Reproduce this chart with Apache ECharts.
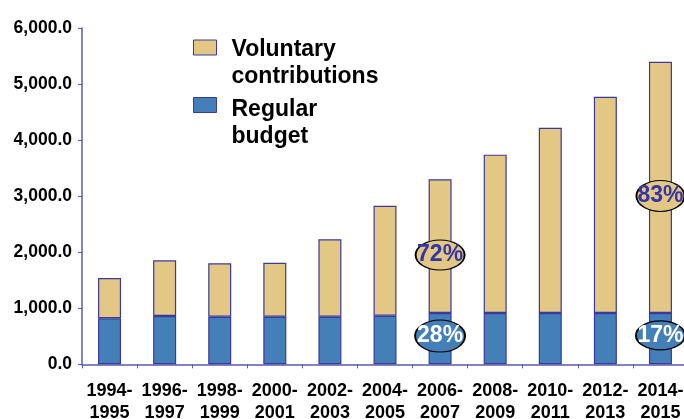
<!DOCTYPE html>
<html><head><meta charset="utf-8">
<script src="https://cdn.jsdelivr.net/npm/echarts@6/dist/echarts.min.js"></script>
<style>html,body{margin:0;padding:0;background:#fff}#c{width:684px;height:419px}</style>
</head><body><div id="c"></div>
<script>
const categories = ['1994-\n1995','1996-\n1997','1998-\n1999','2000-\n2001','2002-\n2003','2004-\n2005','2006-\n2007','2008-\n2009','2010-\n2011','2012-\n2013','2014-\n2015'];
const regularBudget = [821, 862, 849, 849, 849, 867, 915, 915, 915, 915, 915];
const voluntaryContributions = [719, 993, 953, 964, 1381, 1963, 2386, 2825, 3306, 3859, 4484];
const yTicks = [0, 1000, 2000, 3000, 4000, 5000, 6000];
const seriesNames = ['Voluntary\ncontributions', 'Regular\nbudget'];

const FONT = '"Liberation Sans", Arial, sans-serif';
const TAN = '#E3C785', BLUE = '#457FB8', EDGE = '#3A3A9C', AXIS = '#5A5AAE';

function pct(i, part) {
  const tot = regularBudget[i] + voluntaryContributions[i];
  return Math.round(part[i] / tot * 100) + '%';
}
const i7 = 6, i11 = 10;

const chart = echarts.init(document.getElementById('c'), null, {renderer: 'canvas'});
chart.setOption({
  animation: false,
  grid: {left: 82, top: 28, width: 606, height: 336.3, containLabel: false, outerBoundsMode: 'none'},
  xAxis: {
    type: 'category', data: categories, boundaryGap: true,
    axisLine: {lineStyle: {color: AXIS, width: 1.5}},
    axisTick: {show: true, length: 4, lineStyle: {color: AXIS}},
    axisLabel: {color: '#000', fontFamily: FONT, fontWeight: 'bold', fontSize: 18, lineHeight: 22, margin: 16, interval: 0}
  },
  yAxis: {
    type: 'value', min: yTicks[0], max: yTicks[yTicks.length - 1], interval: 1000,
    axisLine: {show: true, lineStyle: {color: AXIS, width: 1.5}},
    axisTick: {show: true, length: 4, lineStyle: {color: AXIS}},
    splitLine: {show: false},
    axisLabel: {color: '#000', fontFamily: FONT, fontWeight: 'bold', fontSize: 17.5, margin: 10,
      formatter: v => v.toLocaleString('en-US', {minimumFractionDigits: 1, maximumFractionDigits: 1})}
  },
  series: [
    {
      name: seriesNames[1], type: 'bar', stack: 'total', data: regularBudget, barWidth: 23,
      itemStyle: {color: BLUE, borderColor: EDGE, borderWidth: 1.2},
      markPoint: {
        symbol: 'circle', silent: true,
        data: [
          {coord: [i7, 505], symbolSize: [50, 32], value: pct(i7, regularBudget)},
          {coord: [i11, 515], symbolSize: [49, 29], value: pct(i11, regularBudget)}
        ],
        itemStyle: {color: BLUE, borderColor: '#000', borderWidth: 1.5},
        label: {show: true, position: 'inside', formatter: p => p.value, color: '#fff', fontFamily: FONT, fontWeight: 'bold', fontSize: 23}
      }
    },
    {
      name: seriesNames[0], type: 'bar', stack: 'total', data: voluntaryContributions, barWidth: 23,
      itemStyle: {color: TAN, borderColor: EDGE, borderWidth: 1.2},
      markPoint: {
        symbol: 'circle', silent: true,
        data: [
          {coord: [i7, 1950], symbolSize: [49, 30], value: pct(i7, voluntaryContributions)},
          {coord: [i11, 3003], symbolSize: [48, 31], value: pct(i11, voluntaryContributions)}
        ],
        itemStyle: {color: TAN, borderColor: '#000', borderWidth: 1.5},
        label: {show: true, position: 'inside', formatter: p => p.value, color: '#3535A5', fontFamily: FONT, fontWeight: 'bold', fontSize: 23}
      }
    }
  ],
  graphic: [
    {type: 'rect', left: 193, top: 39.5, shape: {width: 23, height: 15}, style: {fill: TAN, stroke: EDGE, lineWidth: 1}},
    {type: 'text', left: 231.5, top: 35.5, style: {text: seriesNames[0], font: 'bold 23px ' + FONT, lineHeight: 27.5, fill: '#000'}},
    {type: 'rect', left: 193, top: 97, shape: {width: 23, height: 15}, style: {fill: BLUE, stroke: EDGE, lineWidth: 1}},
    {type: 'text', left: 231.5, top: 95.5, style: {text: seriesNames[1], font: 'bold 23px ' + FONT, lineHeight: 27.5, fill: '#000'}}
  ]
});
</script></body></html>
